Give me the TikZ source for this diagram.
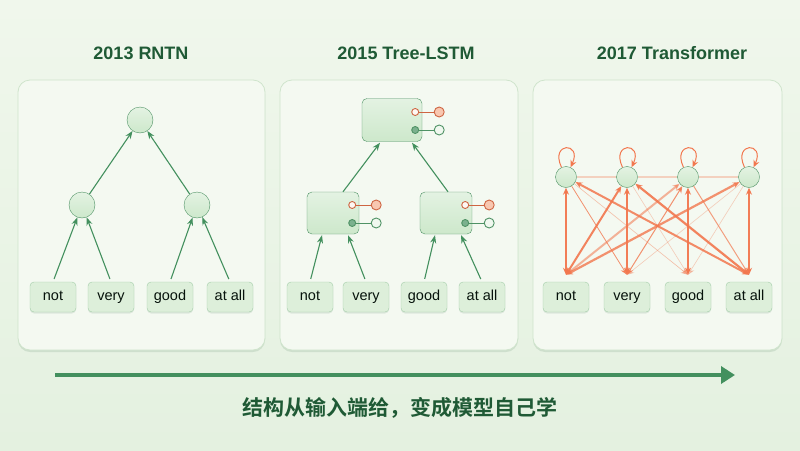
\documentclass[tikz,border=0pt]{standalone}
\usepackage{fontspec}
\setmainfont{Liberation Sans}
\newfontfamily\cjk{Noto Sans CJK SC}[BoldFont={Noto Sans CJK SC Bold}]
\usetikzlibrary{positioning,calc,arrows.meta,shadows}

\definecolor{fondbas}{HTML}{E4F1E0}
\definecolor{fondhaut}{HTML}{F0F7EC}
\definecolor{cadre}{HTML}{F4F9F1}
\definecolor{cadretrait}{HTML}{CFE4CC}
\definecolor{vertfonce}{HTML}{1F5A35}
\definecolor{vert}{HTML}{43905E}
\definecolor{noeud}{HTML}{CDE8CB}
\definecolor{noeudtrait}{HTML}{4F9265}
\definecolor{mot}{HTML}{DDEFDA}
\definecolor{mottrait}{HTML}{A3CDA9}
\definecolor{corail}{HTML}{F2774E}
\definecolor{corailclair}{HTML}{F8C7B0}

\tikzset{
  panel/.style={fill=cadre,draw=cadretrait,line width=0.8pt,rounded corners=12pt,
    drop shadow={opacity=0.12,shadow xshift=0pt,shadow yshift=-2pt,fill=vertfonce}},
  title/.style={text=vertfonce,font=\bfseries\fontsize{18}{20}\selectfont},
  word/.style={draw=mottrait,fill=mot,rounded corners=4pt,minimum width=46pt,minimum height=30pt,
    inner sep=0pt,text height=10.5pt,text depth=3pt,text=black!80!vertfonce,
    font=\fontsize{14.5}{16}\selectfont,
    drop shadow={opacity=0.1,shadow xshift=0pt,shadow yshift=-1.5pt,fill=vertfonce}},
  rn/.style={circle,draw=noeudtrait,top color=noeud!55!white,bottom color=noeud,
    minimum size=26pt,inner sep=0pt},
  cell/.style={draw=noeudtrait,top color=noeud!55!white,bottom color=noeud,
    rounded corners=5pt,inner sep=0pt},
  up/.style={vert,line width=1.1pt,shorten <=3pt,-{Stealth[length=8pt,width=6pt]}},
  att/.style={corail,line width=1pt},
  portor/.style={draw=corail!85!black,line width=0.9pt},
  portvt/.style={draw=noeudtrait,line width=0.9pt}
}

% portes de la cellule LSTM
\newcommand\gates[1]{%
  \draw[portor] ($(#1.east)+(-7,-8)$) -- ++(24,0);
  \draw[portor,fill=corailclair] ($(#1.east)+(17,-8)$) circle (5pt);
  \draw[portor,fill=white!85!corailclair] ($(#1.east)+(-7,-8)$) circle (3.5pt);
  \draw[portvt] ($(#1.east)+(-7,10)$) -- ++(24,0);
  \draw[portvt,fill=white!70!noeud] ($(#1.east)+(17,10)$) circle (5pt);
  \draw[portvt,fill=vert!70] ($(#1.east)+(-7,10)$) circle (3.5pt);
}

\begin{document}
\begin{tikzpicture}[x=1pt,y=-1pt,>={Stealth[length=7pt,width=6pt]}]
  \fill[top color=fondhaut,bottom color=fondbas] (0,0) rectangle (800,450);
  \useasboundingbox (0,0) rectangle (800,450);

  \draw[panel] (18,80) rectangle (265,350);
  \draw[panel] (280,80) rectangle (518,350);
  \draw[panel] (533,80) rectangle (782,350);

  \node[title] (t1) at (141,53) {2013 RNTN};
  \node[title] (t2) at (406,53) {2015 Tree-LSTM};
  \node[title] (t3) at (672,53) {2017 Transformer};

  % RNTN
  \foreach \w/\x [count=\i] in {not/53,very/111,good/170,at all/230}
    \node[word] (a\i) at (\x,297) {\w};
  \node[rn] (a5) at (82,205) {};
  \node[rn] (a6) at (197,205) {};
  \node[rn] (a7) at (140,120) {};
  \draw[up] (a1.north) -- (a5);
  \draw[up] (a2.north) -- (a5);
  \draw[up] (a3.north) -- (a6);
  \draw[up] (a4.north) -- (a6);
  \draw[up,shorten <=0pt] (a5) -- (a7);
  \draw[up,shorten <=0pt] (a6) -- (a7);

  % Tree-LSTM
  \foreach \w/\x [count=\i] in {not/310,very/366,good/424,at all/482}
    \node[word] (b\i) at (\x,297) {\w};
  \node[cell,minimum width=52pt,minimum height=42pt] (b5) at (333,213) {};
  \node[cell,minimum width=52pt,minimum height=42pt] (b6) at (446,213) {};
  \node[cell,minimum width=60pt,minimum height=43pt] (b7) at (392,120) {};
  \gates{b5}
  \gates{b6}
  \gates{b7}
  \draw[up] (b1.north) -- ($(b5.south)+(-11,1)$);
  \draw[up] (b2.north) -- ($(b5.south)+(15,1)$);
  \draw[up] (b3.north) -- ($(b6.south)+(-11,1)$);
  \draw[up] (b4.north) -- ($(b6.south)+(15,1)$);
  \draw[up,shorten <=0pt] ($(b5.north)+(10,0)$) -- ($(b7.south)+(-12,1)$);
  \draw[up,shorten <=0pt] ($(b6.north)+(2,0)$) -- ($(b7.south)+(20,1)$);

  % Transformer
  \foreach \w/\x [count=\i] in {not/566,very/627,good/688,at all/749}{
    \node[word] (c\i) at (\x,297) {\w};
    \node[rn,minimum size=21pt] (d\i) at (\x,177) {};
    \coordinate (e\i) at ($(c\i.north)+(0,-7)$);
  }
  \draw[att,opacity=0.3,line width=1.6pt] (d1) -- (d2) -- (d3) -- (d4);
  \foreach \i in {1,...,4}
    \draw[att,->] (d\i) edge[loop,out=115,in=65,min distance=16pt,looseness=8] (d\i);
  \foreach \i/\j/\w/\o/\t in {1/2/0.8/0.8/->,1/3/0.6/0.45/->,2/3/0.6/0.35/->,
      4/2/0.6/0.35/->,4/3/0.6/0.35/->,3/4/1.0/0.7/->,3/2/1.0/0.8/<->,
      3/1/2.0/0.55/<->,1/4/2.0/0.85/<->,2/1/2.0/0.9/<->,2/4/2.2/0.9/<->,
      4/1/2.2/0.8/<->,1/1/1.4/0.95/<->,2/2/1.2/0.95/<->,3/3/1.2/0.95/<->,4/4/1.2/0.95/<->}
    \draw[att,line width=\w pt,opacity=\o,\t] (d\i) -- (e\j);

  % fleche du bas
  \coordinate (s0) at (55,375);
  \coordinate (s1) at (735,375);
  \draw[vert,line width=4pt,-{Triangle[length=14pt,width=17pt]}] (s0) -- (s1);
  \node[text=vertfonce,font=\cjk\bfseries\fontsize{21}{23}\selectfont] (msg) at (400,408)
    {结构从输入端给，变成模型自己学};
\end{tikzpicture}
\end{document}
